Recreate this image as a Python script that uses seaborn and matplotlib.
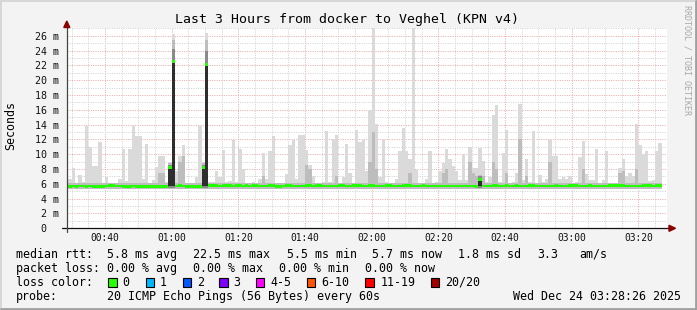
import numpy as np
import seaborn as sns
import matplotlib
matplotlib.use("Agg")
import matplotlib.pyplot as plt
from matplotlib.patches import Rectangle, Polygon
from matplotlib.lines import Line2D

# ---------------- data (milliseconds, one value per minute) ----------------
minutes = list(range(28, 207))   # minute of day (00:28 .. 03:26)

smoke_max = [
    13.4, 6.6, 8.1, 6.0, 7.2, 6.2, 13.8, 11.0, 8.4, 8.4,
    11.7, 6.0, 6.9, 5.9, 5.8, 5.9, 6.6, 10.7, 6.4, 10.7,
    13.8, 12.5, 12.5, 6.7, 11.4, 6.0, 6.5, 8.3, 9.8, 9.8,
    6.2, 9.0, 26.2, 7.7, 9.8, 11.3, 5.8, 5.8, 5.8, 6.9,
    13.8, 9.0, 26.3, 6.3, 6.3, 7.8, 6.9, 10.6, 6.3, 6.4,
    11.9, 6.3, 10.7, 8.0, 5.8, 5.8, 6.3, 5.8, 6.6, 10.2,
    6.6, 10.4, 12.4, 5.8, 5.8, 6.0, 7.3, 11.3, 11.9, 6.6,
    12.6, 12.6, 10.6, 8.6, 7.1, 5.8, 5.8, 6.3, 13.2, 6.3,
    12.0, 12.6, 5.8, 6.9, 11.4, 7.5, 5.8, 13.3, 11.7, 11.9,
    7.8, 16.0, 27.0, 14.1, 6.9, 11.9, 6.3, 5.8, 5.8, 6.6,
    10.5, 13.6, 10.4, 9.3, 27.0, 7.9, 5.8, 5.8, 6.6, 10.5,
    5.8, 6.3, 7.8, 8.8, 10.7, 9.4, 8.4, 7.8, 6.5, 10.0,
    6.5, 11.0, 8.1, 8.1, 10.8, 9.1, 6.3, 6.9, 15.3, 16.7,
    6.3, 10.1, 13.3, 5.8, 6.2, 7.4, 16.8, 6.5, 9.4, 6.3,
    13.1, 5.8, 7.2, 6.3, 6.7, 11.9, 9.8, 9.8, 6.6, 6.9,
    6.7, 7.0, 5.8, 6.3, 9.6, 11.8, 7.3, 6.5, 6.5, 10.7,
    5.6, 6.5, 10.5, 5.8, 5.8, 5.8, 8.2, 9.4, 7.1, 7.5,
    7.1, 14.1, 11.2, 10.0, 10.5, 6.4, 6.5, 10.5, 11.5,
]

median_rtt = [
    5.6, 5.6, 5.7, 5.6, 5.7, 5.7, 5.6, 5.7, 5.6, 5.6,
    5.6, 5.6, 5.7, 5.8, 5.8, 5.7, 5.7, 5.6, 5.6, 5.6,
    5.7, 5.6, 5.6, 5.6, 5.6, 5.6, 5.6, 5.6, 5.6, 5.6,
    5.6, 8.2, 22.5, 5.7, 5.8, 5.7, 5.6, 5.6, 5.6, 5.6,
    5.6, 8.2, 22.1, 5.8, 5.8, 5.8, 5.7, 5.8, 5.8, 5.8,
    5.7, 5.8, 5.8, 5.7, 5.8, 5.7, 5.8, 5.8, 5.7, 5.7,
    5.7, 5.8, 5.8, 5.6, 5.6, 5.7, 5.8, 5.8, 5.7, 5.7,
    5.7, 5.7, 5.8, 5.8, 5.7, 5.8, 5.8, 5.7, 5.7, 5.7,
    5.7, 5.7, 5.8, 5.8, 5.7, 5.7, 5.8, 5.8, 5.8, 5.7,
    5.7, 5.8, 5.8, 5.7, 5.7, 5.7, 5.8, 5.8, 5.7, 5.7,
    5.7, 5.8, 5.8, 5.8, 5.7, 5.7, 5.7, 5.8, 5.7, 5.7,
    5.7, 5.7, 5.7, 5.7, 5.7, 5.7, 5.7, 5.7, 5.7, 5.7,
    5.7, 5.7, 5.7, 5.6, 6.6, 5.7, 5.7, 5.7, 5.8, 5.8,
    5.7, 5.7, 5.8, 5.7, 5.7, 5.8, 5.7, 5.7, 5.7, 5.8,
    5.8, 5.7, 5.7, 5.7, 5.7, 5.7, 5.7, 5.8, 5.7, 5.7,
    5.7, 5.8, 5.8, 5.8, 5.7, 5.7, 5.7, 5.8, 5.7, 5.7,
    5.7, 5.7, 5.7, 5.8, 5.8, 5.8, 5.8, 5.8, 5.7, 5.7,
    5.7, 5.7, 5.7, 5.8, 5.8, 5.8, 5.7, 5.8, 5.8,
]

# darker smoke bands (only where visible; minute -> top in ms)
smoke_mid = {56: 7.5, 57: 7.5, 62: 9.0, 63: 9.7, 87: 7.0, 100: 8.5, 101: 8.0,
             109: 7.0, 119: 9.0, 120: 13.0, 121: 8.0, 131: 7.5, 141: 7.5,
             142: 8.0, 149: 9.0, 150: 7.5, 151: 7.0, 153: 7.0, 156: 9.0,
             157: 8.0, 160: 7.5, 164: 12.0, 166: 7.0, 173: 9.0, 183: 8.0,
             194: 7.5, 195: 7.8, 199: 8.0,
             59: 8.8, 60: 25.4, 69: 8.8, 70: 25.4, 152: 7.2}
smoke_dark = {59: 8.6, 60: 24.2, 69: 8.6, 70: 23.9, 152: 7.0}
smoke_core = {59: 8.4, 60: 22.6, 69: 8.4, 70: 22.2, 152: 6.8}

y_ticks = list(range(0, 27, 2))
x_ticks = [40, 60, 80, 100, 120, 140, 160, 180, 200]
x_labels = ["00:40", "01:00", "01:20", "01:40", "02:00", "02:20", "02:40", "03:00", "03:20"]

loss_labels = ["0", "1", "2", "3", "4-5", "6-10", "11-19", "20/20"]
loss_colors = ["#26ff00", "#00b8ff", "#0059ff", "#7e00ff", "#ff00ff", "#ff5500", "#ff0000", "#a10000"]

# ---------------- figure ----------------
sns.set_theme(style="white")
plt.rcParams['font.family'] = ['DejaVu Sans Mono', 'DejaVu Sans']

W, H = 697, 310
fig = plt.figure(figsize=(W / 100, H / 100), dpi=100, facecolor="#f3f3f3")

X0, X1 = 66.5, 666.5
Y0, Y1 = 228.3, 28.3
ax = fig.add_axes([X0 / W, 1 - Y0 / H, (X1 - X0) / W, (Y0 - Y1) / H])
ax.set_facecolor("white")
ax.set_xlim(28.433, 208.433)
ax.set_ylim(0, 27)

m = np.array(minutes, dtype=float)
xs = np.append(m, m[-1] + 1)
n = len(m)
SMOKE_LO = 5.35


def stepfill(lo, hi, color, z):
    lo = np.append(lo, lo[-1])
    hi = np.append(hi, hi[-1])
    ax.fill_between(xs, lo, hi, step='post', color=color, linewidth=0, zorder=z)


smax = np.array(smoke_max)
med = np.array(median_rtt)
stepfill(np.full(n, SMOKE_LO), smax, "#dadada", 2)

mid = np.array([smoke_mid.get(k, 6.1) for k in minutes])
stepfill(np.full(n, SMOKE_LO), mid, "#bdbdbd", 3)

dark_hi = np.array([smoke_dark.get(k, np.nan) for k in minutes])
dark_lo = np.where(np.isnan(dark_hi), np.nan, 5.5)
stepfill(np.nan_to_num(dark_lo, nan=0), np.nan_to_num(dark_hi, nan=0), "#8a8a8a", 4)

core_hi = np.array([smoke_core.get(k, np.nan) for k in minutes])
core_lo = np.where(np.isnan(core_hi), np.nan, 5.7)
stepfill(np.nan_to_num(core_lo, nan=0), np.nan_to_num(core_hi, nan=0), "#2e2e2e", 5)

# median block line
ax.bar(m, 0.38, bottom=med - 0.19, width=1.02, align='edge', color="#22ff00",
       linewidth=0, zorder=6)

# grid
ax.set_yticks(y_ticks)
ax.set_yticks(np.arange(0, 27.5, 1), minor=True)
ax.set_xticks(x_ticks)
ax.set_xticks(np.arange(30, 209, 5), minor=True)
ax.grid(which='minor', color="#cfcfcf", linestyle=(0, (1, 1.4)), linewidth=0.7)
ax.grid(which='major', color="#f0a4a4", linestyle=(0, (1, 1.4)), linewidth=0.7)
ax.set_axisbelow(True)

ax.set_yticklabels(["0  "] + [f"{v} m" for v in y_ticks[1:]], fontsize=7.2, color="#111")
ax.set_xticklabels(x_labels, fontsize=6.9, color="#111")
ax.tick_params(axis='y', which='major', direction='inout', length=4, width=0.8, pad=3.5, color="#333")
ax.tick_params(axis='x', which='major', direction='out', length=2, width=0.8, pad=1.5, color="#e06060")
ax.tick_params(axis='both', which='minor', length=0)
for s in ax.spines.values():
    s.set_visible(False)


def fx(x):
    return x / W


def fy(y):
    return 1 - y / H


# axes lines and arrows
fig.add_artist(Line2D([fx(62), fx(669)], [fy(228.3), fy(228.3)], color="#111", lw=0.9, zorder=10))
fig.add_artist(Line2D([fx(66.8), fx(66.8)], [fy(231.5), fy(26)], color="#444", lw=0.9, zorder=10))
fig.add_artist(Polygon([[fx(669), fy(225.3)], [fx(675.5), fy(228.3)], [fx(669), fy(231.3)]],
                       closed=True, transform=fig.transFigure, color="#8b0000", zorder=11))
fig.add_artist(Polygon([[fx(63.8), fy(27.5)], [fx(66.8), fy(21)], [fx(69.8), fy(27.5)]],
                       closed=True, transform=fig.transFigure, color="#8b0000", zorder=11))

# frame
fig.add_artist(Line2D([fx(0.5), fx(696.5)], [fy(0.6), fy(0.6)], color="#d2d2d2", lw=1.2))
fig.add_artist(Line2D([fx(0.6), fx(0.6)], [fy(0.5), fy(309.5)], color="#d2d2d2", lw=1.2))
fig.add_artist(Line2D([fx(0.5), fx(696.5)], [fy(308.8), fy(308.8)], color="#a0a0a0", lw=2))
fig.add_artist(Line2D([fx(695.8), fx(695.8)], [fy(0.5), fy(309.5)], color="#a0a0a0", lw=2))

# texts
fig.text(fx(347), fy(19.3), "Last 3 Hours from docker to Veghel (KPN v4)", ha='center', va='center',
         fontsize=9.5, color="#000")
fig.text(fx(10.5), fy(126), "Seconds", rotation=90, ha='center', va='center', fontsize=8.4, color="#000")
fig.text(fx(687.5), fy(5), "RRDTOOL / TOBI OETIKER", rotation=270, ha='center', va='top',
         fontsize=6.0, color="#a8a8a8")

LF = 8.4
rows = [
    (254.3, [(16, "median rtt:"), (107, "5.8 ms avg"), (193, "22.5 ms max"), (286.7, "5.5 ms min"),
             (372.3, "5.7 ms now"), (458.3, "1.8 ms sd"), (537.3, "3.3"), (579.3, "am/s")]),
    (268.3, [(16, "packet loss:"), (107, "0.00 % avg"), (193.3, "0.00 % max"), (279.3, "0.00 % min"),
             (365, "0.00 % now")]),
    (282.3, [(16, "loss color:")]),
    (296.3, [(16, "probe:"), (107, "20 ICMP Echo Pings (56 Bytes) every 60s"),
             (512.7, "Wed Dec 24 03:28:26 2025")]),
]
for yy, segs in rows:
    for xx, s in segs:
        fig.text(fx(xx), fy(yy), s, ha='left', va='center', fontsize=LF, color="#000")

box_x = [108.3, 145.7, 182.7, 219.3, 256, 306.7, 365.3, 430.7]
lab_x = [122.7, 160, 196.7, 233.7, 270.7, 321, 380.7, 445.3]
for bx, lx, lab, col in zip(box_x, lab_x, loss_labels, loss_colors):
    fig.add_artist(Rectangle((fx(bx), fy(286.7)), 8.3 / W, 8.3 / H, transform=fig.transFigure,
                             facecolor=col, edgecolor="#000", lw=0.8))
    fig.text(fx(lx), fy(282.3), lab, ha='left', va='center', fontsize=LF, color="#000")

fig.savefig("out.png", dpi=100, facecolor=fig.get_facecolor())
